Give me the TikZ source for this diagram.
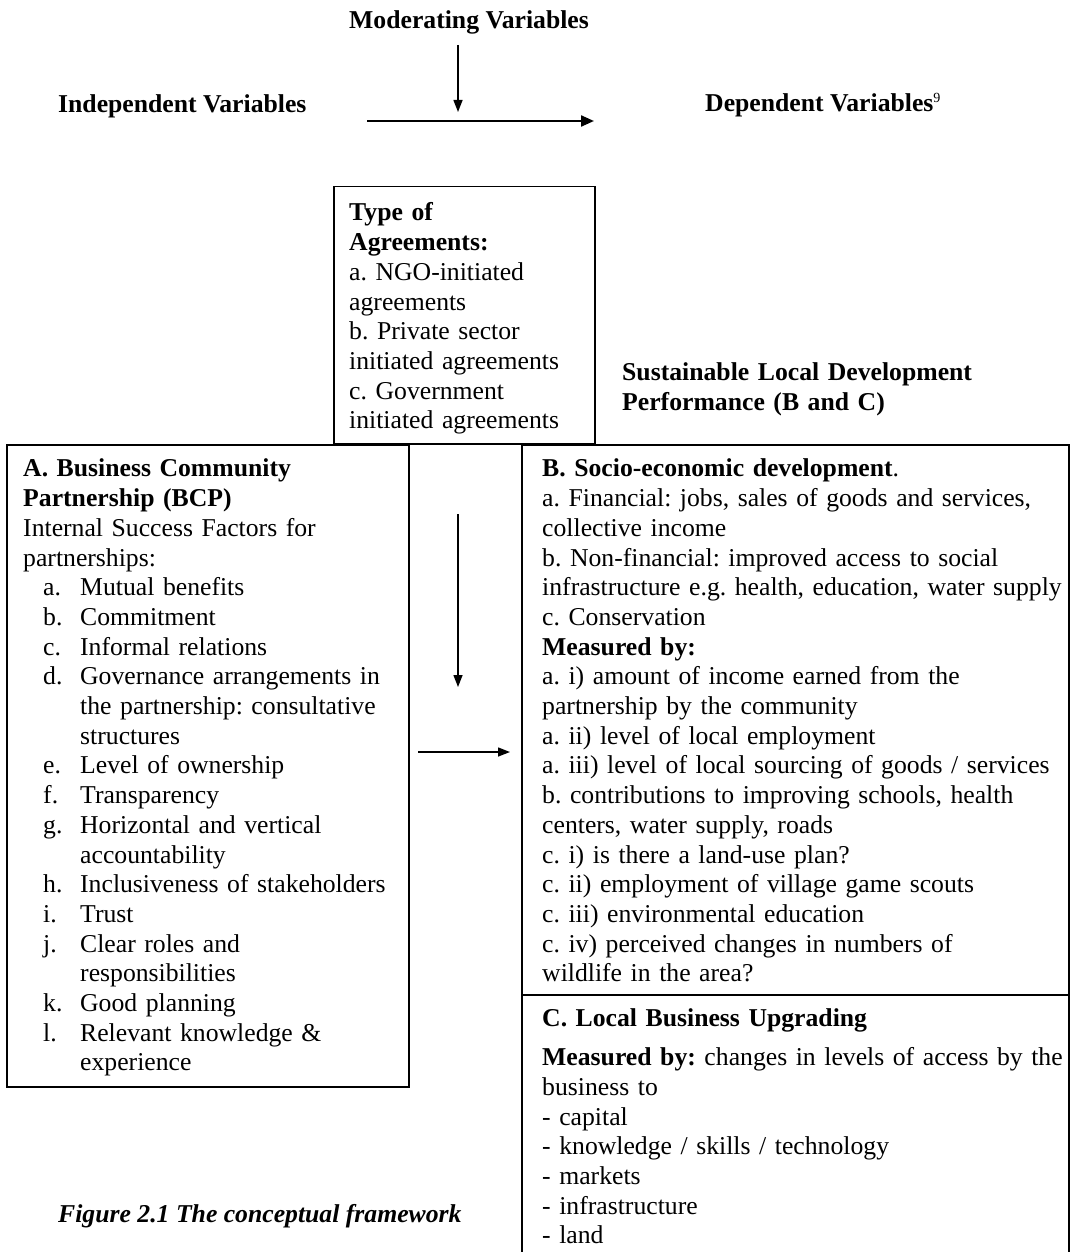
\documentclass[tikz,border=0pt]{standalone}
\usepackage{fontspec}
\setmainfont{Liberation Serif}
\usetikzlibrary{arrows.meta}
\newcommand\itemlab[1]{\hspace*{20pt}\makebox[37pt][l]{#1}}
\newcommand\itemcont{\hspace*{57pt}}
\tikzset{
  txt/.style={font=\fontsize{25.7}{29.7}\selectfont\frenchspacing, inner sep=0pt, text=black},
  para/.style={txt, anchor=north west, text width=620pt, align=left},
  box/.style={draw, line width=1.5pt, inner sep=0pt, anchor=north west},
  arr/.style={-{Triangle[length=12pt,width=9pt]}, line width=1.4pt},
  thickarr/.style={-{Triangle[length=13pt,width=11pt]}, line width=2.2pt}
}
\begin{document}
\begin{tikzpicture}[x=1pt,y=-1pt]
\useasboundingbox (0,0) rectangle (1070,1252);
\clip (0,0) rectangle (1070,1252);
% headings
\node[txt, anchor=base west] (modvar) at (349,29) {\textbf{Moderating Variables}};
\node[txt, anchor=base west] (indvar) at (58,113) {\textbf{Independent Variables}};
\node[txt, anchor=base west] (depvar) at (705,112) {\textbf{Dependent Variables}\raisebox{9pt}{\fontsize{14}{14}\selectfont 9}};
% top arrows
\coordinate (mvtop) at (458,45);
\coordinate (mvbot) at (458,112);
\coordinate (hstart) at (367,121);
\coordinate (hend) at (594,121);
\draw[arr] (mvtop) -- (mvbot);
\draw[thickarr] (hstart) -- (hend);
% boxes
\node[box, minimum width=261pt, minimum height=257pt] (modbox) at (333,186) {};
\node[box, minimum width=402pt, minimum height=642pt] (boxA) at (6,444) {};
\node[box, minimum width=547pt, minimum height=550pt] (boxB) at (521,444) {};
\node[box, minimum width=547pt, minimum height=280pt] (boxC) at (521,994) {};
% moderating box text
\node[para] (modtext) at (349,200) {\strut\textbf{Type of}\\
\textbf{Agreements:}\\
a. NGO-initiated\\
agreements\\
b. Private sector\\
initiated agreements\\
c. Government\\
initiated agreements};
% sustainable heading
\node[para] (sustain) at (622,360) {\strut\textbf{Sustainable Local Development}\\
\textbf{Performance (B and C)}};
% A text
\node[para] (textA) at (23,456) {\strut\textbf{A. Business Community}\\
\textbf{Partnership (BCP)}\\
Internal Success Factors for\\
partnerships:\\
\itemlab{a.}Mutual benefits\\
\itemlab{b.}Commitment\\
\itemlab{c.}Informal relations\\
\itemlab{d.}Governance arrangements in\\
\itemcont the partnership: consultative\\
\itemcont structures\\
\itemlab{e.}Level of ownership\\
\itemlab{f.}Transparency\\
\itemlab{g.}Horizontal and vertical\\
\itemcont accountability\\
\itemlab{h.}Inclusiveness of stakeholders\\
\itemlab{i.}Trust\\
\itemlab{j.}Clear roles and\\
\itemcont responsibilities\\
\itemlab{k.}Good planning\\
\itemlab{l.}Relevant knowledge \&\\
\itemcont experience};
% B text
\node[para] (textB) at (542,456) {\strut\textbf{B. Socio-economic development}.\\
a. Financial: jobs, sales of goods and services,\\
collective income\\
b. Non-financial: improved access to social\\
infrastructure e.g. health, education, water supply\\
c. Conservation\\
\textbf{Measured by:}\\
a. i) amount of income earned from the\\
partnership by the community\\
a. ii) level of local employment\\
a. iii) level of local sourcing of goods / services\\
b. contributions to improving schools, health\\
centers, water supply, roads\\
c. i) is there a land-use plan?\\
c. ii) employment of village game scouts\\
c. iii) environmental education\\
c. iv) perceived changes in numbers of\\
wildlife in the area?};
% C text
\node[para] (textC) at (542,1005) {\strut\textbf{C. Local Business Upgrading}\\[10pt]
\textbf{Measured by:} changes in levels of access by the\\
business to\\
- capital\\
- knowledge / skills / technology\\
- markets\\
- infrastructure\\
- land};
% inner arrows
\coordinate (gvtop) at (458,514);
\coordinate (gvbot) at (458,687);
\coordinate (ghstart) at (418,752);
\coordinate (ghend) at (510,752);
\draw[arr] (gvtop) -- (gvbot);
\draw[arr] (ghstart) -- (ghend);
% caption
\node[txt, anchor=base west] (caption) at (58,1222) {\textbf{\textit{Figure 2.1 The conceptual framework}}};
\end{tikzpicture}
\end{document}
